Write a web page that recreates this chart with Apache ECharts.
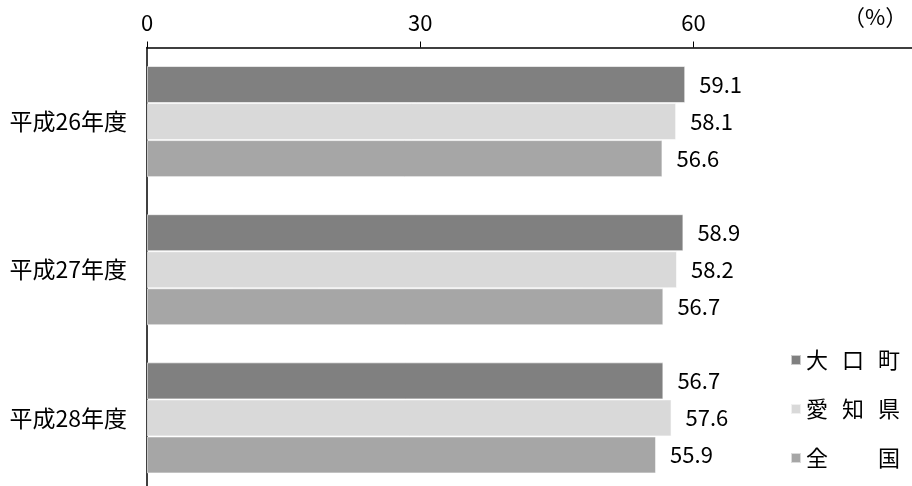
<!DOCTYPE html>
<html>
<head>
<meta charset="utf-8">
<script src="https://cdn.jsdelivr.net/npm/echarts@6/dist/echarts.min.js"></script>
<style>
  html, body { margin: 0; padding: 0; background: #fff; overflow: hidden; }
  #chart { width: 912px; height: 492px; }
</style>
</head>
<body>
<div id="chart"></div>
<script>
// Fiscal years (rows) and the three series compared for each year
const years = ['平成26年度', '平成27年度', '平成28年度'];
const seriesNames = ['大口町', '愛知県', '全国'];
const oguchi = [59.1, 58.9, 56.7];
const aichi = [58.1, 58.2, 57.6];
const national = [56.6, 56.7, 55.9];
const xTicks = [0, 30, 60];

const FONT = '"Noto Sans CJK JP", "Noto Sans", sans-serif';
const colors = ['#808080', '#d9d9d9', '#a6a6a6'];
const seriesData = [oguchi, aichi, national];

// Legend names are drawn one character per fixed-width cell
const legendCells = {
  '大口町': '{c|大}{c|口}{c|町}',
  '愛知県': '{c|愛}{c|知}{c|県}',
  '全国': '{c|全}{c|}{c|国}'
};

const chart = echarts.init(document.getElementById('chart'), null, { renderer: 'canvas' });

chart.setOption({
  animation: false,
  backgroundColor: '#fff',
  textStyle: { fontFamily: FONT },
  grid: { left: 147, right: 0, top: 47.5, bottom: 0, containLabel: false },
  xAxis: {
    type: 'value',
    position: 'top',
    min: 0,
    max: 84,
    interval: 30,
    splitLine: { show: false },
    axisLine: { show: true, lineStyle: { color: '#000', width: 1.5 } },
    axisTick: { show: true, length: 6, lineStyle: { color: '#000' } },
    axisLabel: {
      color: '#000',
      fontSize: 22,
      fontFamily: FONT,
      margin: 14,
      showMaxLabel: false,
      formatter: v => (xTicks.indexOf(v) >= 0 ? String(v) : '')
    }
  },
  yAxis: {
    type: 'category',
    data: years,
    inverse: true,
    axisLine: { show: true, lineStyle: { color: '#000', width: 1.5 } },
    axisTick: { show: false },
    axisLabel: { color: '#000', fontSize: 23, fontFamily: FONT, margin: 20 }
  },
  legend: {
    orient: 'vertical',
    left: 785,
    top: 344,
    icon: 'rect',
    itemWidth: 10,
    itemHeight: 10,
    itemGap: 27,
    data: seriesNames,
    formatter: name => legendCells[name],
    textStyle: {
      color: '#000',
      fontSize: 22,
      fontFamily: FONT,
      rich: { c: { width: 36, fontSize: 22, fontFamily: FONT, color: '#000' } }
    }
  },
  graphic: [{
    type: 'text',
    left: 843,
    top: 6,
    style: { text: '（%）', fill: '#000', font: '22px ' + FONT }
  }],
  series: seriesNames.map((name, i) => ({
    name: name,
    type: 'bar',
    data: seriesData[i],
    barGap: '0%',
    barCategoryGap: '25%',
    itemStyle: { color: colors[i], borderColor: 'rgba(255,255,255,0.6)', borderWidth: 1 },
    label: {
      show: true,
      position: 'right',
      distance: 14,
      color: '#000',
      fontSize: 22,
      fontFamily: FONT,
      formatter: p => p.value.toFixed(1)
    }
  }))
});
</script>
</body>
</html>
